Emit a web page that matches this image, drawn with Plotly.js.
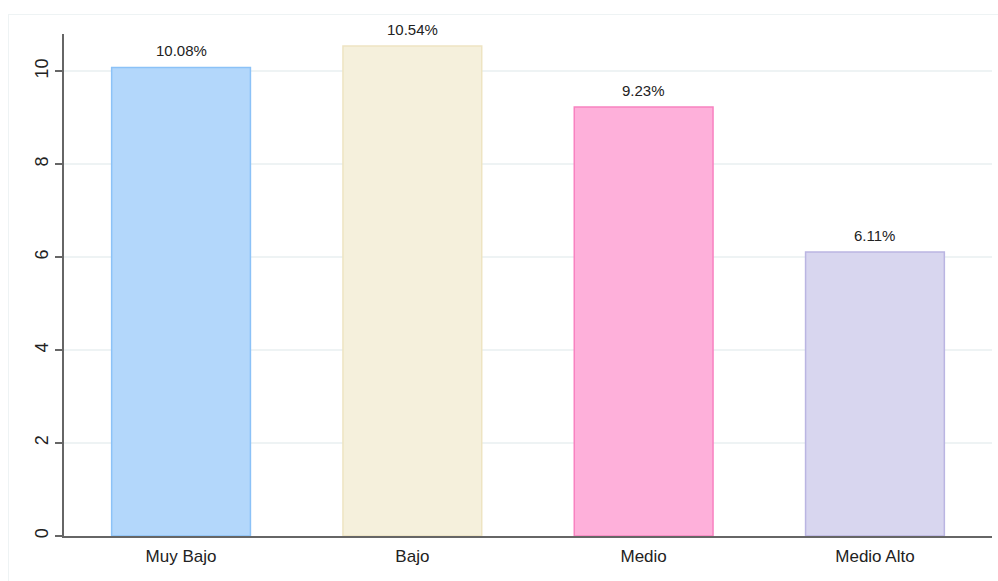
<!DOCTYPE html>
<html>
<head>
<meta charset="utf-8">
<script src="https://cdn.plot.ly/plotly-3.0.1.min.js"></script>
<style>
html,body{margin:0;padding:0;background:#fff;}
#wrap{position:relative;width:998px;height:581px;overflow:hidden;}
#frame{position:absolute;left:8px;top:14px;width:1200px;height:800px;border:1.5px solid #eef3f4;box-sizing:border-box;}
#chart{position:absolute;left:0;top:0;width:998px;height:581px;}
</style>
</head>
<body>
<div id="wrap"><div id="frame"></div><div id="chart"></div></div>
<script>
const categories = ["Muy Bajo", "Bajo", "Medio", "Medio Alto"];
const values = [10.08, 10.54, 9.23, 6.11];
const fillColors = ["#b3d7fb", "#f5f0dc", "#feb0da", "#d8d6ef"];
const lineColors = ["#8cc2f7", "#eee4c2", "#f882c0", "#bab5e2"];
const yTicks = [0, 2, 4, 6, 8, 10];

const trace = {
  type: "bar",
  x: categories,
  y: values,
  width: 0.6,
  marker: {color: fillColors, line: {color: lineColors, width: 1.5}},
  hoverinfo: "none"
};

const annotations = categories.map((c, i) => ({
  x: c, y: values[i], xref: "x", yref: "y",
  text: values[i].toFixed(2) + "%",
  showarrow: false, yanchor: "bottom", yshift: 6,
  font: {family: "Liberation Sans, Arial, sans-serif", size: 15, color: "#222"}
}));

const layout = {
  width: 998, height: 581,
  margin: {l: 64, r: 6, t: 34, b: 45},
  paper_bgcolor: "rgba(0,0,0,0)",
  plot_bgcolor: "rgba(0,0,0,0)",
  showlegend: false,
  bargap: 0.4,
  xaxis: {
    type: "category",
    range: [-0.506, 3.506],
    showline: true, linecolor: "#666", linewidth: 2,
    ticks: "", showgrid: false, zeroline: false,
    ticklabelstandoff: 4,
    tickfont: {family: "Liberation Sans, Arial, sans-serif", size: 17, color: "#222"}
  },
  yaxis: {
    range: [0, 10.8],
    tickvals: yTicks,
    ticktext: yTicks.map(String),
    tickangle: -90,
    showline: true, linecolor: "#666", linewidth: 2,
    ticks: "outside", ticklen: 7, tickwidth: 1.5, tickcolor: "#666",
    showgrid: true, gridcolor: "#eef3f4", gridwidth: 1.5,
    zeroline: false,
    tickfont: {family: "Liberation Sans, Arial, sans-serif", size: 18, color: "#222"}
  },
  annotations: annotations
};

Plotly.newPlot("chart", [trace], layout, {displayModeBar: false, staticPlot: true});
</script>
</body>
</html>
